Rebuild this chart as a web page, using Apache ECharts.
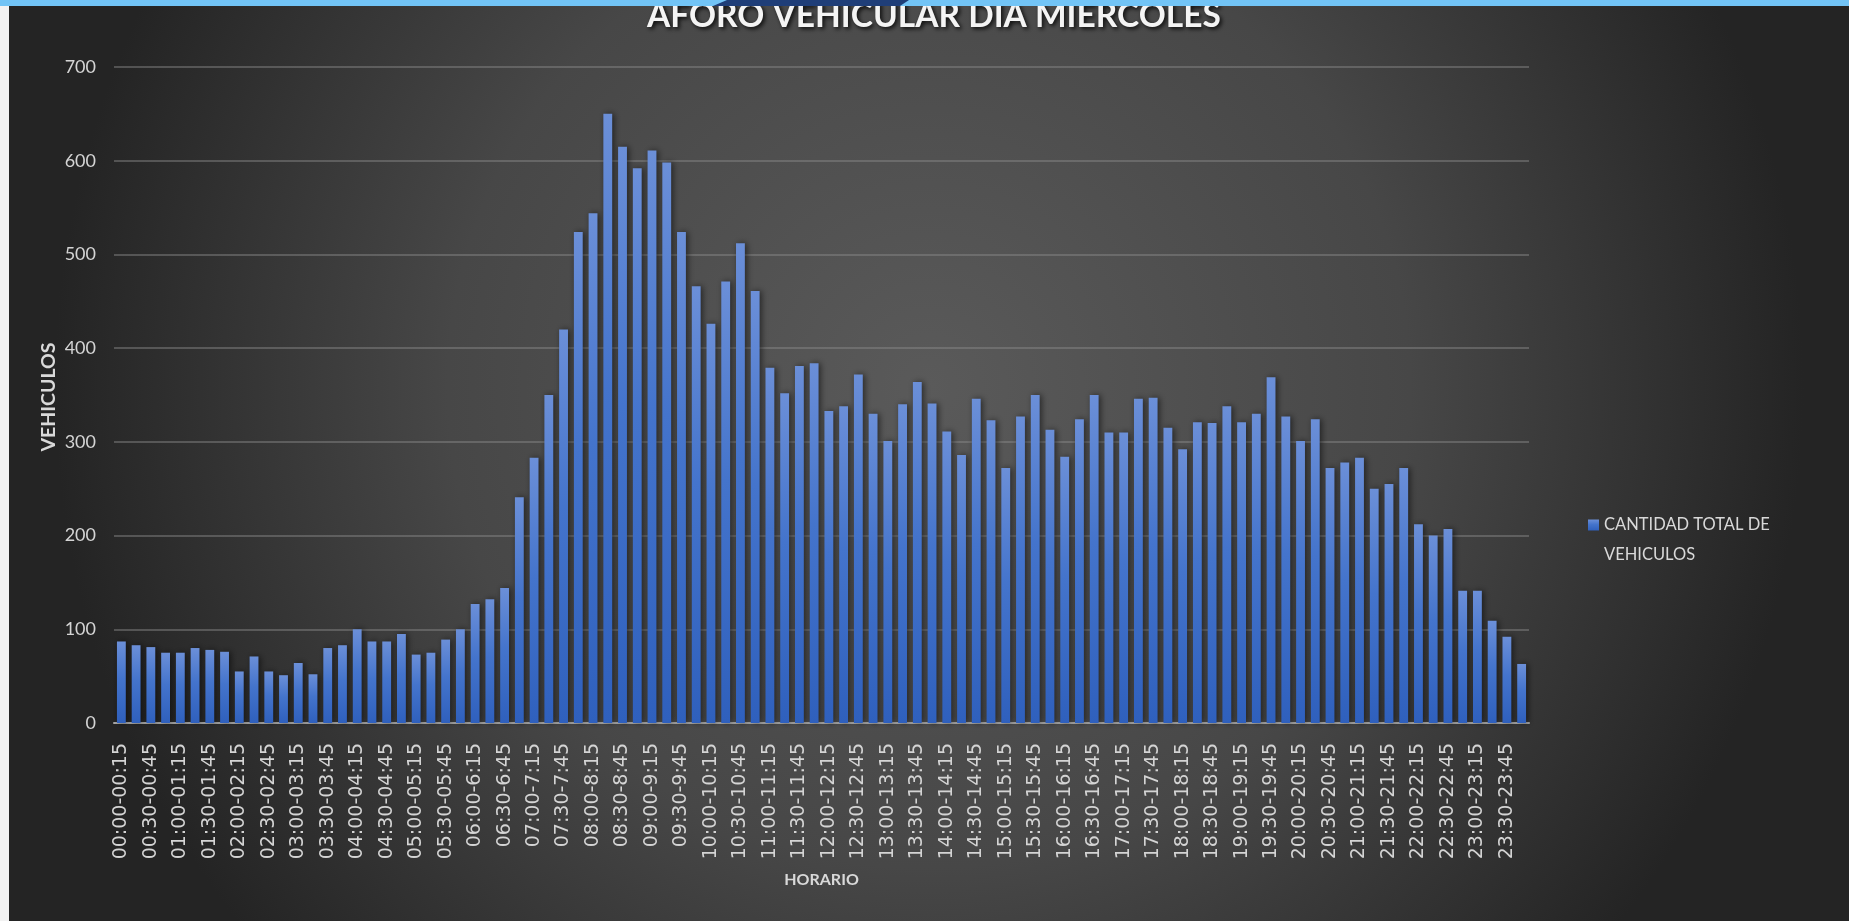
<!DOCTYPE html>
<html>
<head>
<meta charset="utf-8">
<title>Aforo vehicular día miércoles</title>
<script src="https://cdn.jsdelivr.net/npm/echarts@6/dist/echarts.min.js"></script>
<style>
  html, body { margin: 0; padding: 0; background: #f2f2f2; }
  #chart { width: 1849px; height: 921px; }
</style>
</head>
<body>
<div id="chart"></div>
<script>
// 15-minute counting intervals over the whole day
const horario = [
  "00:00-00:15","00:15-00:30","00:30-00:45","00:45-01:00",
  "01:00-01:15","01:15-01:30","01:30-01:45","01:45-02:00",
  "02:00-02:15","02:15-02:30","02:30-02:45","02:45-03:00",
  "03:00-03:15","03:15-03:30","03:30-03:45","03:45-04:00",
  "04:00-04:15","04:15-04:30","04:30-04:45","04:45-05:00",
  "05:00-05:15","05:15-05:30","05:30-05:45","05:45-06:00",
  "06:00-6:15","06:15-6:30","06:30-6:45","06:45-7:00",
  "07:00-7:15","07:15-7:30","07:30-7:45","07:45-8:00",
  "08:00-8:15","08:15-8:30","08:30-8:45","08:45-9:00",
  "09:00-9:15","09:15-9:30","09:30-9:45","09:45-10:00",
  "10:00-10:15","10:15-10:30","10:30-10:45","10:45-11:00",
  "11:00-11:15","11:15-11:30","11:30-11:45","11:45-12:00",
  "12:00-12:15","12:15-12:30","12:30-12:45","12:45-13:00",
  "13:00-13:15","13:15-13:30","13:30-13:45","13:45-14:00",
  "14:00-14:15","14:15-14:30","14:30-14:45","14:45-15:00",
  "15:00-15:15","15:15-15:30","15:30-15:45","15:45-16:00",
  "16:00-16:15","16:15-16:30","16:30-16:45","16:45-17:00",
  "17:00-17:15","17:15-17:30","17:30-17:45","17:45-18:00",
  "18:00-18:15","18:15-18:30","18:30-18:45","18:45-19:00",
  "19:00-19:15","19:15-19:30","19:30-19:45","19:45-20:00",
  "20:00-20:15","20:15-20:30","20:30-20:45","20:45-21:00",
  "21:00-21:15","21:15-21:30","21:30-21:45","21:45-22:00",
  "22:00-22:15","22:15-22:30","22:30-22:45","22:45-23:00",
  "23:00-23:15","23:15-23:30","23:30-23:45","23:45-00:00"
];

// Total vehicles counted in each interval
const totalVehiculos = [
  87, 83, 81, 75, 75, 80, 78, 76,
  55, 71, 55, 51, 64, 52, 80, 83,
  100, 87, 87, 95, 73, 75, 89, 100,
  127, 132, 144, 241, 283, 350, 420, 524,
  544, 650, 615, 592, 611, 598, 524, 466,
  426, 471, 512, 461, 379, 352, 381, 384,
  333, 338, 372, 330, 301, 340, 364, 341,
  311, 286, 346, 323, 272, 327, 350, 313,
  284, 324, 350, 310, 310, 346, 347, 315,
  292, 321, 320, 338, 321, 330, 369, 327,
  301, 324, 272, 278, 283, 250, 255, 272,
  212, 200, 207, 141, 141, 109, 92, 63
];

const serieNombre = "CANTIDAD TOTAL DE VEHICULOS";
const titulo = "AFORO VEHICULAR DIA MIERCOLES";
const ejeY = "VEHICULOS";
const ejeX = "HORARIO";
const yMin = 0, yMax = 700, yPaso = 100;

const chart = echarts.init(document.getElementById('chart'), null, { renderer: 'canvas' });

const barFill = new echarts.graphic.LinearGradient(0, 0, 0, 1, [
  { offset: 0, color: '#6b8fd8' },
  { offset: 0.45, color: '#4474cc' },
  { offset: 1, color: '#2f60bd' }
]);

// legend text wraps onto two lines; a leading empty line keeps the
// square level with the first line of the name
const legendLine = 29.5;

chart.setOption({
  animation: false,
  backgroundColor: 'transparent',
  title: {
    text: titulo,
    left: 642,
    top: -6,
    textStyle: {
      fontFamily: 'Lato',
      fontWeight: 'bold',
      fontSize: 33.5,
      color: '#f4f4f4',
      textShadowColor: 'rgba(0,0,0,0.85)',
      textShadowBlur: 4,
      textShadowOffsetX: 2,
      textShadowOffsetY: 2
    },
    z: 6
  },
  graphic: [
    // page backdrop with a soft radial light
    {
      type: 'rect',
      z: -100,
      silent: true,
      shape: { x: 9, y: 0, width: 1840, height: 921 },
      style: {
        fill: new echarts.graphic.RadialGradient(0.5, 0.42, 0.95, [
          { offset: 0, color: '#5a5a5a' },
          { offset: 0.55, color: '#474747' },
          { offset: 1, color: '#242424' }
        ])
      }
    },
    // header band
    {
      type: 'rect',
      z: 100,
      silent: true,
      shape: { x: 0, y: 0, width: 1849, height: 6 },
      style: { fill: '#72c4f6' }
    },
    {
      type: 'polygon',
      z: 101,
      silent: true,
      shape: { points: [[727, 0], [909, 0], [900, 6], [713, 6]] },
      style: { fill: '#1f3e78' }
    },
    // y-axis title, placed beside the tick labels
    {
      type: 'text',
      z: 50,
      silent: true,
      x: 48.5,
      y: 397,
      rotation: Math.PI / 2,
      style: {
        text: ejeY,
        fontFamily: 'Lato',
        fontWeight: 'bold',
        fontSize: 19.5,
        fill: '#d9d9d9',
        align: 'center',
        verticalAlign: 'middle'
      }
    }
  ],
  legend: {
    show: true,
    left: 1583,
    top: 520 - 1.5 * legendLine,
    orient: 'vertical',
    icon: 'rect',
    itemWidth: 11,
    itemHeight: 11,
    formatter: function (name) { return '\n' + name; },
    textStyle: {
      fontFamily: 'Lato',
      fontSize: 16.5,
      color: '#d9d9d9',
      width: 175,
      overflow: 'break',
      lineHeight: legendLine
    },
    data: [serieNombre]
  },
  grid: {
    left: 114,
    right: 320,
    top: 67,
    bottom: 198,
    containLabel: false
  },
  xAxis: {
    type: 'category',
    data: horario,
    name: ejeX,
    nameLocation: 'middle',
    nameGap: 149,
    nameMoveOverlap: false,
    nameTextStyle: {
      fontFamily: 'Lato',
      fontWeight: 'bold',
      fontSize: 16,
      color: '#d9d9d9',
      verticalAlign: 'top'
    },
    axisLine: { show: true, lineStyle: { color: '#a8a8a8', width: 2 } },
    axisTick: { show: false },
    axisLabel: {
      interval: 1,
      rotate: 90,
      margin: 20,
      fontFamily: 'DejaVu Sans',
      fontSize: 19,
      color: '#d4d4d4'
    },
    splitLine: { show: false }
  },
  yAxis: {
    type: 'value',
    min: yMin,
    max: yMax,
    interval: yPaso,
    axisLine: { show: false },
    axisTick: { show: false },
    axisLabel: {
      margin: 18,
      fontFamily: 'Lato',
      fontSize: 18,
      color: '#d4d4d4'
    },
    splitLine: { show: true, lineStyle: { color: 'rgba(140,140,140,0.45)', width: 2 } }
  },
  series: [{
    name: serieNombre,
    type: 'bar',
    data: totalVehiculos,
    barCategoryGap: '40%',
    itemStyle: {
      color: barFill,
      shadowColor: 'rgba(0,0,0,0.55)',
      shadowBlur: 6,
      shadowOffsetX: 2,
      shadowOffsetY: 0
    }
  }]
});
</script>
</body>
</html>
